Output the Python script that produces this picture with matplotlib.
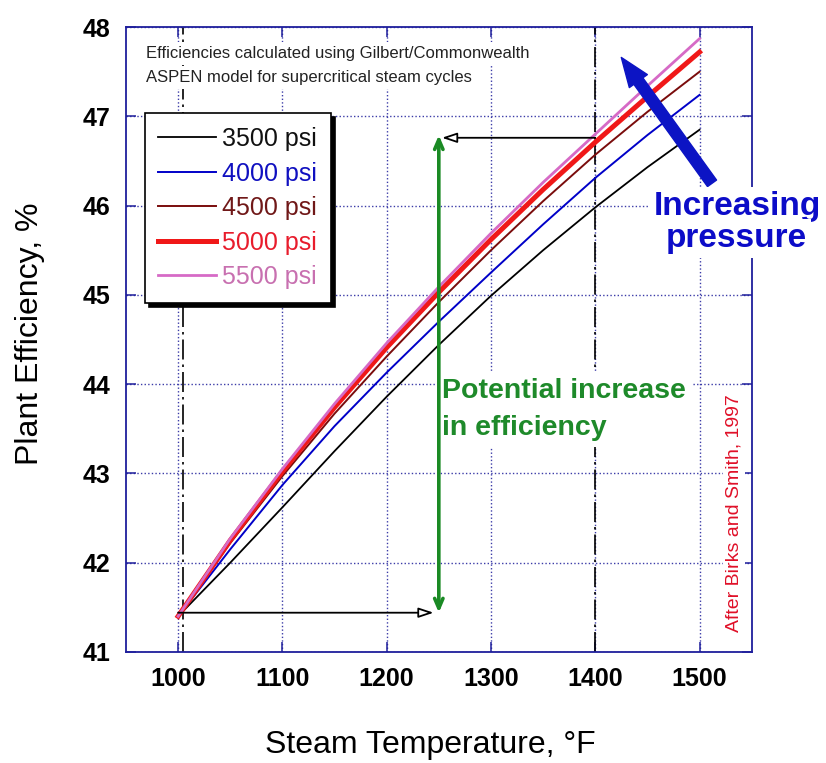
import matplotlib.pyplot as plt

# readings taken off the original figure (After Birks and Smith, 1997)
temps = [1000, 1050, 1100, 1150, 1200, 1250, 1300, 1350, 1400, 1450, 1500]
eff_3500 = [41.40, 42.00, 42.62, 43.25, 43.86, 44.44, 44.99, 45.50, 45.98, 46.43, 46.85]
eff_4000 = [41.40, 42.15, 42.87, 43.53, 44.13, 44.70, 45.25, 45.79, 46.31, 46.79, 47.24]
eff_4500 = [41.40, 42.22, 42.97, 43.67, 44.31, 44.92, 45.50, 46.05, 46.57, 47.05, 47.50]
eff_5000 = [41.40, 42.25, 43.02, 43.74, 44.41, 45.03, 45.62, 46.18, 46.71, 47.22, 47.72]
eff_5500 = [41.40, 42.27, 43.05, 43.78, 44.46, 45.09, 45.69, 46.26, 46.80, 47.34, 47.87]

labels = ['3500 psi', '4000 psi', '4500 psi', '5000 psi', '5500 psi']
series = [eff_3500, eff_4000, eff_4500, eff_5000, eff_5500]
colors = ['#000000', '#0000c8', '#7a0c0c', '#f01818', '#d66ac6']
text_colors = ['#111111', '#1010c0', '#701818', '#e81c2c', '#c870b0']
widths = [1.3, 1.4, 1.4, 3.6, 2.0]

x_ticks = [1000, 1100, 1200, 1300, 1400, 1500]
y_ticks = [41, 42, 43, 44, 45, 46, 47, 48]

plt.rcParams['font.family'] = ['Liberation Sans', 'DejaVu Sans']

fig = plt.figure(figsize=(8.26, 7.63), dpi=100)
ax = fig.add_axes([0.1525, 0.1455, 0.7575, 0.819])

navy = '#1f1f9c'
ax.set_xlim(950, 1550)
ax.set_ylim(41, 48)
ax.set_xticks(x_ticks)
ax.set_yticks(y_ticks)
ax.set_axisbelow(True)
ax.grid(True, color='#3c3ca8', linestyle=(0, (1, 1.6)), linewidth=1.0)
for s in ax.spines.values():
    s.set_color(navy)
    s.set_linewidth(1.3)
ax.tick_params(direction='in', top=True, right=True, length=7, width=1.1,
               color=navy, labelsize=18, pad=11)
plt.setp(ax.get_xticklabels() + ax.get_yticklabels(), fontweight='bold')

# reference lines
for xv in [1005, 1400]:
    ax.axvline(xv, color='black', linestyle=(0, (12, 3, 1.5, 3)), linewidth=1.2, zorder=1.5)

for vals, lab, c, w in zip(series, labels, colors, widths):
    ax.plot(temps, vals, color=c, lw=w, label=lab, zorder=3)

leg = ax.legend(loc='upper left', bbox_to_anchor=(0.03, 0.862), fontsize=18,
                fancybox=False, edgecolor='black', framealpha=1,
                shadow={'ox': 3, 'oy': -3, 'color': 'black', 'alpha': 1},
                handlelength=2.3, handletextpad=0.25, labelspacing=0.42,
                borderpad=0.55, borderaxespad=0)
leg.get_frame().set_linewidth(1.2)
for t, c in zip(leg.get_texts(), text_colors):
    t.set_color(c)

# arrows
ax.annotate('', xy=(1245, 41.44), xytext=(1000, 41.44),
            arrowprops=dict(arrowstyle='-|>,head_length=0.9,head_width=0.3',
                            lw=1.3, ec='black', fc='white', shrinkA=0, shrinkB=0), zorder=4)
ax.annotate('', xy=(1253, 46.76), xytext=(1400, 46.76),
            arrowprops=dict(arrowstyle='-|>,head_length=0.9,head_width=0.3',
                            lw=1.3, ec='black', fc='white', shrinkA=0, shrinkB=0), zorder=4)
ax.annotate('', xy=(1250, 46.79), xytext=(1250, 41.44),
            arrowprops=dict(arrowstyle='<->,head_length=0.7,head_width=0.3',
                            lw=2.6, color='#1a8a24', shrinkA=0, shrinkB=0), zorder=7)
ax.annotate('', xy=(1425, 47.66), xytext=(1512, 46.25),
            arrowprops=dict(arrowstyle='simple,head_length=2.1,head_width=1.6,tail_width=0.8',
                            mutation_scale=10, fc='#0c14c4', ec='#0c14c4',
                            shrinkA=0, shrinkB=0), zorder=4)

white = dict(facecolor='white', edgecolor='none', pad=3)

ax.text(969, 47.653, 'Efficiencies calculated using Gilbert/Commonwealth',
        fontsize=12, color='#222222', va='baseline', ha='left', bbox=white, zorder=6)
ax.text(969, 47.385, 'ASPEN model for supercritical steam cycles',
        fontsize=12, color='#222222', va='baseline', ha='left', bbox=white, zorder=6)

green = '#1e8a2a'
ax.text(1253, 43.85, 'Potential increase', fontsize=20.5, fontweight='bold',
        color=green, va='baseline', ha='left', bbox=dict(white, pad=5), zorder=6)
ax.text(1253, 43.436, 'in efficiency', fontsize=20.5, fontweight='bold',
        color=green, va='baseline', ha='left', bbox=dict(white, pad=5), zorder=6)

blue = '#0c0cc8'
ax.text(1536, 45.897, 'Increasing', fontsize=24, fontweight='bold', color=blue,
        va='baseline', ha='center', bbox=white, zorder=6, clip_on=False)
ax.text(1535, 45.54, 'pressure', fontsize=24, fontweight='bold', color=blue,
        va='baseline', ha='center', bbox=white, zorder=6, clip_on=False)

ax.text(1533, 42.553, 'After Birks and Smith, 1997', fontsize=14, color='#e01028',
        rotation=90, va='center', ha='center', bbox=dict(white, pad=2), zorder=6)

ax.set_xlabel('Steam Temperature, °F', fontsize=23, va='center')
ax.set_ylabel('Plant Efficiency, %', fontsize=23, va='center')
ax.xaxis.set_label_coords(0.487, -0.149)
ax.yaxis.set_label_coords(-0.153, 0.51)

fig.savefig('out.png', dpi=100)
